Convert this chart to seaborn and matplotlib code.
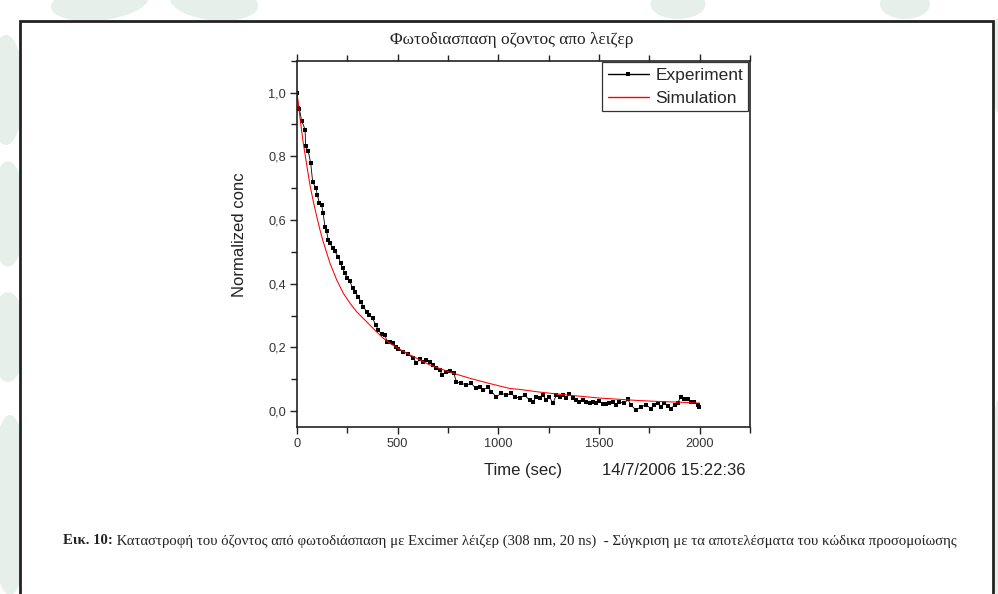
import matplotlib
matplotlib.use("Agg")
import matplotlib.pyplot as plt
import seaborn as sns
import pandas as pd
from matplotlib.patches import Ellipse, Rectangle
from matplotlib.ticker import MultipleLocator, FuncFormatter

# ---------------- data ----------------
exp_time = [0, 7, 12, 23, 40, 43, 56, 68, 78, 94, 101, 111, 122, 130, 139, 147, 155, 164, 177, 188,
            205, 217, 227, 238, 249, 263, 276, 288, 304, 316, 329, 346, 359, 375, 392, 403, 420, 436,
            448, 461, 478, 491, 502, 527, 552, 577, 593, 610, 626, 643, 659, 676, 692, 709, 722, 742,
            759, 778, 792, 817, 841, 866, 888, 907, 924, 949, 965, 990, 1015, 1040, 1064, 1081, 1106,
            1130, 1155, 1172, 1188, 1205, 1221, 1238, 1254, 1271, 1288, 1304, 1320, 1337, 1353, 1370,
            1387, 1403, 1419, 1436, 1453, 1469, 1486, 1502, 1519, 1535, 1552, 1569, 1585, 1601, 1626,
            1643, 1659, 1684, 1709, 1734, 1759, 1775, 1792, 1808, 1825, 1842, 1858, 1875, 1891, 1907,
            1924, 1941, 1957, 1974, 1990, 1998]
exp_value = [1.000, 0.952, 0.947, 0.912, 0.884, 0.831, 0.815, 0.779, 0.719, 0.700, 0.679, 0.653, 0.648,
             0.622, 0.577, 0.564, 0.538, 0.527, 0.512, 0.501, 0.485, 0.464, 0.449, 0.433, 0.419, 0.407,
             0.386, 0.375, 0.359, 0.344, 0.328, 0.312, 0.302, 0.291, 0.270, 0.255, 0.241, 0.239, 0.218,
             0.218, 0.213, 0.202, 0.194, 0.187, 0.179, 0.166, 0.152, 0.162, 0.155, 0.160, 0.155, 0.145,
             0.134, 0.129, 0.113, 0.124, 0.127, 0.120, 0.092, 0.087, 0.082, 0.087, 0.071, 0.076, 0.066,
             0.075, 0.061, 0.045, 0.056, 0.050, 0.056, 0.045, 0.040, 0.050, 0.035, 0.029, 0.045, 0.040,
             0.050, 0.035, 0.045, 0.024, 0.050, 0.045, 0.050, 0.040, 0.055, 0.040, 0.035, 0.029, 0.035,
             0.029, 0.024, 0.029, 0.024, 0.032, 0.022, 0.022, 0.024, 0.029, 0.019, 0.029, 0.024, 0.037,
             0.019, 0.003, 0.014, 0.019, 0.008, 0.019, 0.024, 0.014, 0.026, 0.017, 0.008, 0.019, 0.026,
             0.045, 0.037, 0.037, 0.029, 0.029, 0.019, 0.014]

sim_time = [0, 15, 31, 48, 64, 81, 98, 114, 130, 164, 197, 230, 263, 296, 329, 362, 395, 428, 461, 502,
            560, 659, 760, 858, 960, 1056, 1106, 1200, 1300, 1400, 1500, 1600, 1700, 1800, 1900, 2000]
sim_value = [1.000, 0.920, 0.842, 0.774, 0.711, 0.658, 0.611, 0.569, 0.532, 0.464, 0.412, 0.370, 0.339,
             0.312, 0.291, 0.270, 0.249, 0.229, 0.213, 0.197, 0.177, 0.145, 0.122, 0.103, 0.086, 0.071,
             0.068, 0.060, 0.053, 0.047, 0.041, 0.037, 0.033, 0.030, 0.028, 0.025]

x_ticks = [0, 500, 1000, 1500, 2000]
y_ticks = [0.0, 0.2, 0.4, 0.6, 0.8, 1.0]

title_text = "Φωτοδιασπαση οζοντος απο λειζερ"
ylabel_text = "Normalized conc"
xlabel_text = "Time (sec)"
stamp_text = "14/7/2006 15:22:36"
cap_bold = "Εικ. 10:"
cap_rest = " Καταστροφή του όζοντος από φωτοδιάσπαση με Excimer λέιζερ (308 nm, 20 ns)  - Σύγκριση με τα αποτελέσματα του κώδικα προσομοίωσης"

# ---------------- style ----------------
sns.set_style("ticks")
plt.rcParams['font.family'] = ['Liberation Sans', 'DejaVu Sans']

W, H = 998, 594
fig = plt.figure(figsize=(W / 100, H / 100), dpi=100)
fig.patch.set_facecolor("white")

# decorative pale background leaves (figure pixel coords)
leaf = "#e6efea"
def px_ellipse(cx, cy, w, h, ang=0):
    e = Ellipse((cx / W, 1 - cy / H), w / W, h / H, angle=ang, transform=fig.transFigure,
                facecolor=leaf, edgecolor="none", zorder=0)
    fig.patches.append(e)

px_ellipse(100, 2, 100, 36, 15)
px_ellipse(214, 2, 90, 36, -15)
px_ellipse(678, 4, 55, 30, 0)
px_ellipse(905, 4, 50, 30, 0)
px_ellipse(6, 90, 36, 110, 0)
px_ellipse(8, 214, 36, 105, 0)
px_ellipse(8, 337, 36, 90, 0)
px_ellipse(10, 505, 40, 180, 0)
px_ellipse(998, 65, 14, 95, 0)
px_ellipse(998, 500, 14, 200, 0)

# white page box with dark border
box = Rectangle((20 / W, -0.05), (993 - 20) / W, (1 - 21 / H) + 0.05, transform=fig.transFigure,
                facecolor="white", edgecolor="#222222", linewidth=2.0, zorder=0.5)
fig.patches.append(box)

# ---------------- axes ----------------
left, right, top, bottom = 297, 750, 60.7, 427
ax = fig.add_axes([left / W, 1 - bottom / H, (right - left) / W, (bottom - top) / H])
ax.set_zorder(2)
ax.set_facecolor("white")

exp_df = pd.DataFrame({"t": exp_time, "v": exp_value})
sim_df = pd.DataFrame({"t": sim_time, "v": sim_value})

sns.lineplot(data=exp_df, x="t", y="v", ax=ax, color="black", linewidth=0.6,
             marker="s", markersize=2.8, markeredgewidth=0, label="Experiment", sort=False)
sns.lineplot(data=sim_df, x="t", y="v", ax=ax, color="#ff0000", linewidth=0.75,
             label="Simulation", sort=False)

ax.set_xlim(0, 2250)
ax.set_ylim(-0.05, 1.10)
ax.set_xticks(x_ticks)
ax.set_yticks(y_ticks)
ax.xaxis.set_minor_locator(MultipleLocator(250))
ax.yaxis.set_minor_locator(MultipleLocator(0.1))
ax.yaxis.set_major_formatter(FuncFormatter(lambda v, p: f"{v:.1f}".replace(".", ",")))
ax.xaxis.set_major_formatter(FuncFormatter(lambda v, p: f"{int(round(v))}"))

for s in ax.spines.values():
    s.set_visible(True)
    s.set_color("#222222")
    s.set_linewidth(1.2)

ax.tick_params(axis="both", which="both", direction="out", color="#222222", width=1.0,
               labelsize=9.2, labelcolor="#333333", pad=3)
ax.tick_params(axis="both", which="major", length=5)
ax.tick_params(axis="both", which="minor", length=4)
ax.tick_params(axis="x", which="both", top=True, labeltop=False)
ax.tick_params(axis="y", which="both", right=False)

ax.set_xlabel(xlabel_text, fontsize=12, color="#222222")
ax.xaxis.set_label_coords(0.50, -0.12)
ax.xaxis.label.set_va("center")
ax.set_ylabel(ylabel_text, fontsize=12, color="#222222")
ax.yaxis.set_label_coords(-0.126, 0.524)
ax.yaxis.label.set_va("center")

ax.text((745 - left) / (right - left), -0.12, stamp_text, transform=ax.transAxes,
        ha="right", va="center", fontsize=12, color="#222222")

leg = ax.legend(loc="upper right", frameon=True, fancybox=False, edgecolor="#333333",
                framealpha=1, fontsize=12.5, borderaxespad=0.1, handlelength=2.4,
                handletextpad=0.35, borderpad=0.3, labelspacing=0.45)
leg.get_frame().set_linewidth(0.9)
for h in leg.get_lines():
    h.set_linewidth(1.0)

# title
fig.text(512 / W, 1 - 40 / H, title_text, ha="center", va="center", fontsize=12.5,
         family=["Liberation Serif", "DejaVu Serif"], color="#222222", zorder=10)

# caption
cap_size = 10.6
cap_y = 1 - 541 / H
t1 = fig.text(63 / W, cap_y, cap_bold, ha="left", va="center", fontsize=cap_size,
              fontweight="bold", family=["Liberation Serif", "DejaVu Serif"], color="#222222",
              zorder=10)
fig.canvas.draw()
bb = t1.get_window_extent()
fig.text(bb.x1 / W, cap_y, cap_rest, ha="left", va="center", fontsize=cap_size,
         family=["Liberation Serif", "DejaVu Serif"], color="#222222", zorder=10)

fig.savefig("out.png", dpi=100, facecolor=fig.get_facecolor())
